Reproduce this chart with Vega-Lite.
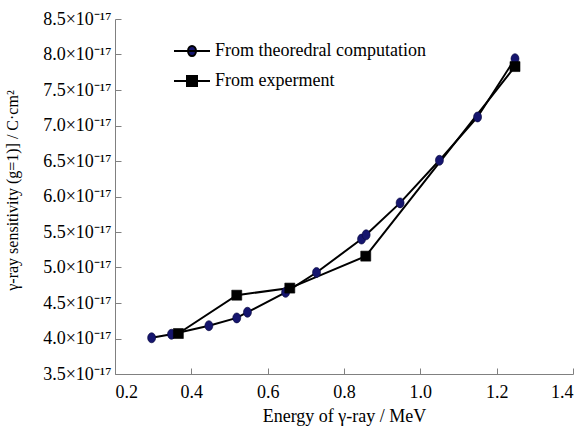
{
  "$schema": "https://vega.github.io/schema/vega-lite/v6.json",
  "width": 458,
  "height": 355,
  "autosize": {"type": "none"},
  "padding": {"left": 115, "top": 19, "right": 4, "bottom": 52},
  "background": "white",
  "config": {
    "view": {"stroke": null},
    "font": "Liberation Serif",
    "legend": {
      "title": null,
      "orient": "none",
      "padding": 0,
      "symbolSize": 400,
      "labelOffset": 12,
      "labelLimit": 0,
      "labelFont": "Liberation Serif",
      "labelFontSize": 18,
      "labelColor": "black",
      "symbolStrokeColor": "black",
      "symbolStrokeWidth": 2,
      "symbolOpacity": 1
    }
  },
  "data": {
    "values": [
      {"series": "From theoredral computation", "E": 0.296, "s": 4.01},
      {"series": "From theoredral computation", "E": 0.348, "s": 4.06},
      {"series": "From theoredral computation", "E": 0.446, "s": 4.18},
      {"series": "From theoredral computation", "E": 0.519, "s": 4.29},
      {"series": "From theoredral computation", "E": 0.547, "s": 4.37},
      {"series": "From theoredral computation", "E": 0.647, "s": 4.65},
      {"series": "From theoredral computation", "E": 0.728, "s": 4.93},
      {"series": "From theoredral computation", "E": 0.846, "s": 5.40},
      {"series": "From theoredral computation", "E": 0.858, "s": 5.46},
      {"series": "From theoredral computation", "E": 0.947, "s": 5.91},
      {"series": "From theoredral computation", "E": 1.050, "s": 6.51},
      {"series": "From theoredral computation", "E": 1.150, "s": 7.12},
      {"series": "From theoredral computation", "E": 1.248, "s": 7.94},
      {"series": "From experment", "E": 0.366, "s": 4.07},
      {"series": "From experment", "E": 0.519, "s": 4.61},
      {"series": "From experment", "E": 0.658, "s": 4.71},
      {"series": "From experment", "E": 0.857, "s": 5.16},
      {"series": "From experment", "E": 1.248, "s": 7.83}
    ]
  },
  "encoding": {
    "x": {
      "field": "E", "type": "quantitative",
      "scale": {"domain": [0.2, 1.4], "nice": false, "zero": false},
      "axis": {
        "title": "Energy of γ-ray / MeV",
        "values": [0.2, 0.4, 0.6, 0.8, 1.0, 1.2, 1.4],
        "format": ".1f",
        "grid": false,
        "tickSize": -6,
        "domainColor": "#808080",
        "tickColor": "#808080",
        "labelFont": "Liberation Serif",
        "labelFontSize": 18,
        "labelColor": "black",
        "labelPadding": 15,
        "titleFont": "Liberation Serif",
        "titleFontSize": 18,
        "titleFontWeight": "normal",
        "titleColor": "black",
        "titleX": 229, "titleY": 47, "titleBaseline": "alphabetic", "titleAlign": "center"
      }
    },
    "y": {
      "field": "s", "type": "quantitative",
      "scale": {"domain": [3.5, 8.5], "nice": false, "zero": false},
      "axis": {
        "title": "γ-ray  sensitivity (g=1)] / C·cm²",
        "values": [3.5, 4.0, 4.5, 5.0, 5.5, 6.0, 6.5, 7.0, 7.5, 8.0, 8.5],
        "labelExpr": "format(datum.value, '.1f') + '×10⁻¹⁷'",
        "grid": false,
        "tickSize": -6,
        "domainColor": "#808080",
        "tickColor": "#808080",
        "labelFont": "Liberation Serif",
        "labelFontSize": 18,
        "labelColor": "black",
        "labelPadding": 10,
        "titleFont": "Liberation Serif",
        "titleFontSize": 16,
        "titleFontWeight": "normal",
        "titleColor": "black",
        "titleX": -103, "titleY": 171, "titleBaseline": "middle", "titleAlign": "center", "titleAngle": -90
      }
    }
  },
  "layer": [
    {
      "mark": {"type": "line", "color": "black", "strokeWidth": 2},
      "encoding": {"detail": {"field": "series"}}
    },
    {
      "transform": [{"filter": "datum.series === 'From theoredral computation'"}],
      "mark": {"type": "point", "filled": true, "size": 100, "opacity": 1, "stroke": "#0a0a3c", "strokeWidth": 0.6, "shape": "M-0.8,0A0.8,1,0,1,0,0.8,0A0.8,1,0,1,0,-0.8,0Z"},
      "encoding": {
        "fill": {
          "field": "series", "type": "nominal",
          "scale": {"domain": ["From theoredral computation"], "range": ["#15156e"]},
          "legend": {
            "legendX": 66,
            "legendY": 21,
            "symbolType": "M-1.8,0H1.8M-0.4,0A0.4,0.5,0,1,0,0.4,0A0.4,0.5,0,1,0,-0.4,0Z",
            "symbolStrokeColor": "black",
            "symbolStrokeWidth": 2
          }
        }
      }
    },
    {
      "transform": [{"filter": "datum.series === 'From experment'"}],
      "mark": {"type": "point", "filled": true, "size": 100, "opacity": 1, "stroke": "black", "strokeWidth": 0.6, "shape": "square"},
      "encoding": {
        "fill": {
          "field": "series", "type": "nominal",
          "scale": {"domain": ["From experment"], "range": ["#000000"]},
          "legend": {
            "legendX": 66,
            "legendY": 51,
            "symbolType": "M-1.8,0H1.8M-0.5,-0.5H0.5V0.5H-0.5Z",
            "symbolStrokeColor": "black",
            "symbolStrokeWidth": 2
          }
        }
      }
    }
  ],
  "resolve": {"scale": {"fill": "independent"}, "legend": {"fill": "independent"}}
}
